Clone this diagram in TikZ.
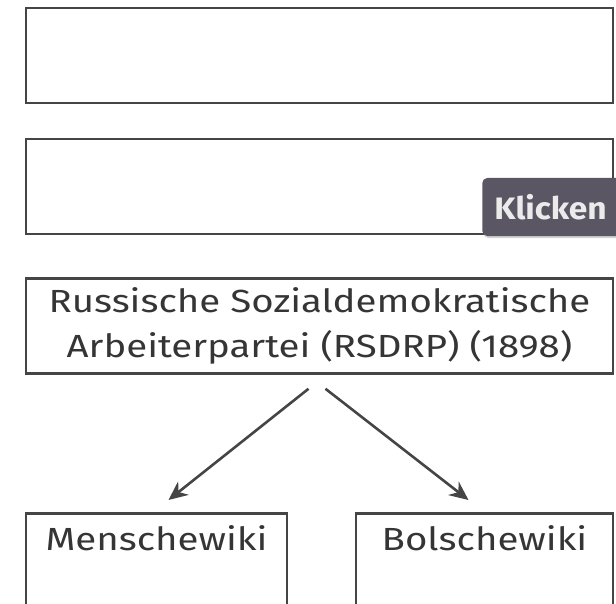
\documentclass[tikz,border=0pt]{standalone}
\usepackage{fontspec}
\setmainfont{Fira Sans}[FakeStretch=1.2]
\newfontfamily\tabfont{Fira Sans}[FakeStretch=1.08]
\usetikzlibrary{arrows.meta,positioning,shadows}
\definecolor{linegray}{HTML}{454545}
\definecolor{textgray}{HTML}{353535}
\definecolor{tabgray}{HTML}{5B5663}

\begin{document}
\begin{tikzpicture}[x=1bp,y=-1bp,->,>={Stealth[length=19bp,width=17bp]},line width=2.6bp,draw=linegray,
	squarednode/.style={rectangle,draw=linegray,line width=2.6bp,inner sep=0pt,minimum width=587bp,minimum height=95bp,text=textgray,align=center,font=\fontsize{32bp}{45bp}\selectfont},
	branchnode/.style={rectangle,draw=linegray,line width=2.6bp,inner sep=0pt,text height=37bp,text depth=110bp,text=textgray,font=\fontsize{32bp}{45bp}\selectfont},
	tabnode/.style={rectangle,fill=tabgray,rounded corners=5bp,text=white!92!black,inner xsep=12bp,minimum height=58bp,minimum width=150bp,text width=126bp,font=\tabfont\fontsize{31bp}{36bp}\selectfont\bfseries,drop shadow={opacity=0.35,shadow xshift=1bp,shadow yshift=-2bp}}]
	
	\useasboundingbox (0,0) rectangle (616,604);
	\clip (0,0) rectangle (616,604);
	
	\node [squarednode] (0) at (319.5, 55.5) {};
	\node [squarednode] (1) at (319.5, 186.5) {};
	\node [tabnode, anchor=west] (t) at (481, 207) {Klicken};
	\node [squarednode] (2) at (319.5, 326) {Russische Sozialdemokratische\\Arbeiterpartei (RSDRP) (1898)};
	\node [branchnode, minimum width=261bp, anchor=north] (3) at (156.5, 512) {Menschewiki};
	\node [branchnode, minimum width=257bp, anchor=north] (4) at (484.5, 512) {Bolschewiki};
	
	\draw ([xshift=-11bp,yshift=-14bp]2.south) to ([xshift=12bp,yshift=12bp]3.north);
	\draw ([xshift=6bp,yshift=-14bp]2.south) to ([xshift=-16bp,yshift=12bp]4.north);

\end{tikzpicture}
\end{document}
